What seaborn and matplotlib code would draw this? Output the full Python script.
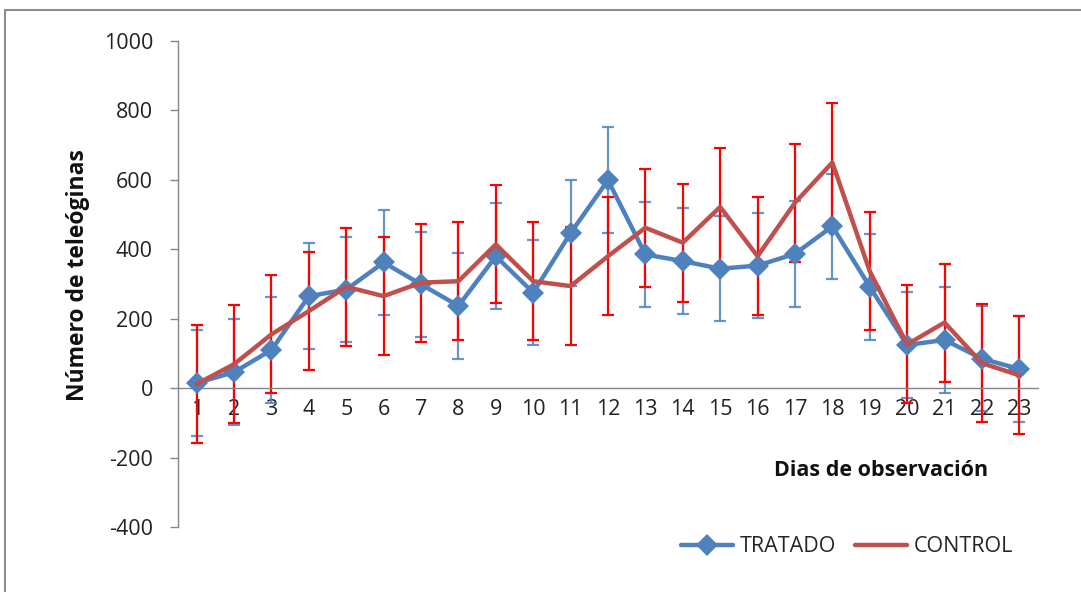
import numpy as np
import pandas as pd
import matplotlib.pyplot as plt
import seaborn as sns
from matplotlib.lines import Line2D

# --- Data ---
dias = list(range(1, 24))
tratado = [15, 46, 110, 265, 284, 362, 299, 237, 380, 275, 447, 599,
           385, 366, 344, 353, 387, 466, 292, 124, 139, 85, 55]
control = [12, 69, 155, 222, 292, 265, 304, 308, 414, 308, 294, 380,
           462, 419, 522, 380, 534, 650, 337, 126, 189, 72, 37]
err_tratado = 152
err_control = 170

df = pd.DataFrame({'dia': dias, 'TRATADO': tratado, 'CONTROL': control})

# --- Style ---
sns.set_theme(style="white")
plt.rcParams['font.family'] = ['Open Sans', 'DejaVu Sans']
plt.rcParams['axes.unicode_minus'] = False

blue = '#4F81BD'
red_line = '#C0504D'
red_err = '#FF0000'
axis_gray = '#868686'

fig = plt.figure(figsize=(10.81, 5.92), dpi=100)
ax = fig.add_axes([178 / 1081, 65 / 592, 860 / 1081, 486 / 592])

# error bars first (Excel draws them under the lines)
ax.errorbar(df['dia'], df['TRATADO'], yerr=err_tratado, fmt='none',
            ecolor=blue, elinewidth=1.6, capsize=4, capthick=1.6, alpha=0.85, zorder=2)
ax.errorbar(df['dia'], df['CONTROL'], yerr=err_control, fmt='none',
            ecolor=red_err, elinewidth=1.6, capsize=4, capthick=1.6, zorder=2)

sns.lineplot(data=df, x='dia', y='TRATADO', ax=ax, color=blue, linewidth=3.2,
             marker='D', markersize=11, markeredgewidth=0, zorder=3, legend=False)
sns.lineplot(data=df, x='dia', y='CONTROL', ax=ax, color=red_line, linewidth=3.2,
             zorder=4, legend=False)

# --- Axes ---
ax.set_xlim(0.5, 23.5)
ax.set_ylim(-400, 1000)
ax.set_yticks(range(-400, 1001, 200))
ax.set_xticks(dias)
ax.set_xticks(np.arange(0.5, 23.6, 1), minor=True)
ax.tick_params(axis='x', which='major', length=0, pad=8, labelsize=15.5, labelcolor='#222222')
ax.tick_params(axis='x', which='minor', length=6, width=1, color=axis_gray, direction='out')
ax.tick_params(axis='y', length=6, width=1, color=axis_gray, direction='out',
               labelsize=15.5, labelcolor='#222222', pad=12, left=True)
ax.set_xlabel('')
ax.set_ylabel('')
ax.grid(False)

ax.spines['bottom'].set_position(('data', 0))
for side in ['top', 'right']:
    ax.spines[side].set_visible(False)
for side in ['left', 'bottom']:
    ax.spines[side].set_color(axis_gray)
    ax.spines[side].set_linewidth(1)

fig.text(78 / 1081, 1 - 275 / 592, 'Número de teleóginas', rotation=90,
         ha='center', va='center', fontsize=16.5, fontweight='bold', color='#111111')
fig.text(881 / 1081, 1 - 470 / 592, 'Dias de observación',
         ha='center', va='center', fontsize=15.5, fontweight='bold', color='#111111')

# --- Legend ---
handles = [Line2D([], [], color=blue, linewidth=3.2, marker='D', markersize=11, markeredgewidth=0),
           Line2D([], [], color=red_line, linewidth=3.2)]
fig.legend(handles, ['TRATADO', 'CONTROL'], loc='center', ncol=2, frameon=False,
           bbox_to_anchor=(847 / 1081, 1 - 547 / 592), fontsize=15.5,
           handlelength=2.4, handletextpad=0.3, columnspacing=0.9)

# --- Outer chart border (top and left edges visible) ---
fig.add_artist(Line2D([5 / 1081, 5 / 1081], [0, 1 - 10 / 592], transform=fig.transFigure,
                      color='#8C8C8C', linewidth=1.5))
fig.add_artist(Line2D([5 / 1081, 1], [1 - 10 / 592, 1 - 10 / 592], transform=fig.transFigure,
                      color='#8C8C8C', linewidth=1.5))

fig.savefig('out.png', dpi=100)
